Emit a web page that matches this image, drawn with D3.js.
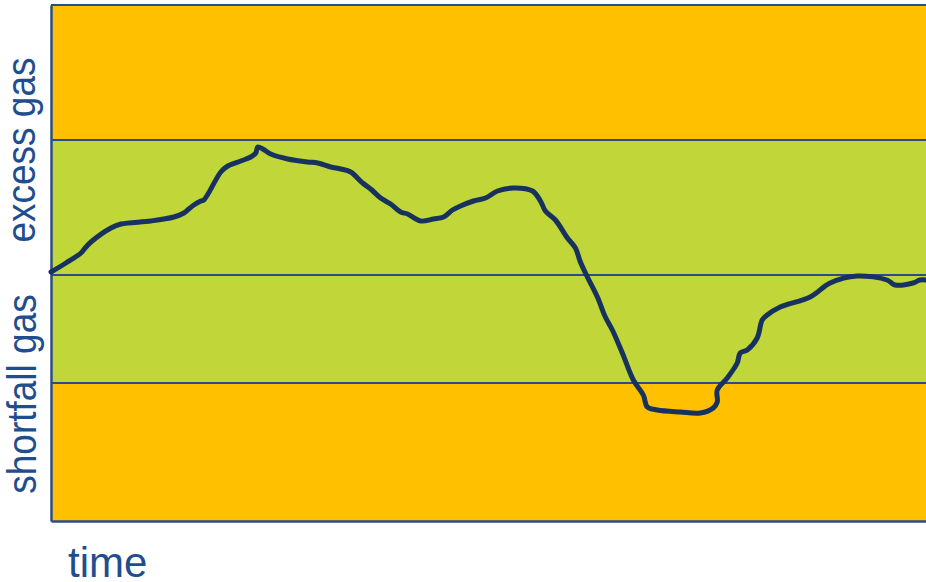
<!DOCTYPE html>
<html>
<head>
<meta charset="utf-8">
<script src="https://cdn.jsdelivr.net/npm/d3@7"></script>
<style>
  body { margin: 0; background: #fff; }
  svg { display: block; font-family: "Liberation Sans", Arial, sans-serif; }
</style>
</head>
<body>
<svg id="chart"></svg>
<script>
// time (arbitrary units) and gas balance (arbitrary units, 0 = balanced)
const times = [0, 15, 30, 35, 40, 60, 70, 100, 123, 133, 138, 143, 150, 153, 170, 177, 190, 200, 205, 207, 212, 220, 237, 257, 267, 280, 290,
  300, 312, 320, 330, 340, 350, 357, 370, 383, 393, 402, 410, 423, 435, 447, 463, 482, 490, 495, 505, 517, 525, 530,
  537, 547, 555, 562, 572, 583, 593, 597, 607, 630, 650, 663, 667, 667, 677, 687, 690, 697, 707, 712, 717, 730, 760,
  780, 807, 837, 845, 863, 870, 876];
const balance = [3, 12, 22, 28, 33, 47, 51, 54, 58, 62, 66, 70, 74, 75, 103, 109, 114, 118, 122, 128, 126, 121, 116, 113, 112, 108, 106,
  103, 92, 86, 77, 71, 63, 61, 54, 56, 58, 65, 69, 74, 77, 84, 87, 84, 74, 64, 55, 37, 27, 13,
  -2, -22, -42, -55, -78, -105, -120, -132, -135, -137, -138, -133, -127, -115, -103, -88, -78, -75, -63, -45, -40, -32, -22,
  -8, -1, -5, -10, -8, -5, -5];

// band limits on the balance scale
const yTop = 270, yBottom = -246;
const upperLimit = 135, lowerLimit = -108;
const bands = [
  { from: upperLimit, to: yTop, color: "#ffc000" },
  { from: lowerLimit, to: upperLimit, color: "#c1d638" },
  { from: yBottom, to: lowerLimit, color: "#ffc000" }
];
const gridLines = [upperLimit, 0, lowerLimit];

const margin = { top: 5, right: 0, bottom: 61, left: 51 };
const width = 926 - margin.left - margin.right;
const height = 582 - margin.top - margin.bottom;

const svg = d3.select("#chart")
  .attr("width", 926)
  .attr("height", 582);

const g = svg.append("g")
  .attr("transform", `translate(${margin.left},${margin.top})`);

const x = d3.scaleLinear().domain([0, 876]).range([0, width]);
const y = d3.scaleLinear().domain([yBottom, yTop]).range([height, 0]);

// coloured bands
g.selectAll("rect.band")
  .data(bands)
  .enter().append("rect")
  .attr("class", "band")
  .attr("x", 0)
  .attr("width", width)
  .attr("y", d => y(d.to))
  .attr("height", d => y(d.from) - y(d.to))
  .attr("fill", d => d.color);

// band borders
g.selectAll("line.grid")
  .data(gridLines)
  .enter().append("line")
  .attr("class", "grid")
  .attr("x1", 0).attr("x2", width)
  .attr("y1", d => y(d)).attr("y2", d => y(d))
  .attr("stroke", "#2b4c8c")
  .attr("stroke-width", 2);

// frame: top, left, bottom
g.append("line").attr("x1", 0).attr("x2", width).attr("y1", y(yTop)).attr("y2", y(yTop))
  .attr("stroke", "#2b4c8c").attr("stroke-width", 2);
g.append("g")
  .call(d3.axisLeft(y).tickValues([]).tickSizeOuter(0))
  .call(a => a.select(".domain").attr("stroke", "#2b4c8c").attr("stroke-width", 2.5));
g.append("g")
  .attr("transform", `translate(0,${height})`)
  .call(d3.axisBottom(x).tickValues([]).tickSizeOuter(0))
  .call(a => a.select(".domain").attr("stroke", "#2b4c8c").attr("stroke-width", 2.5));

// gas balance line
const line = d3.line()
  .x((d, i) => x(times[i]))
  .y(d => y(d))
  .curve(d3.curveCatmullRom.alpha(0.5));

g.append("path")
  .datum(balance)
  .attr("fill", "none")
  .attr("stroke", "#17325f")
  .attr("stroke-width", 5)
  .attr("stroke-linejoin", "round")
  .attr("stroke-linecap", "round")
  .attr("d", line);

// labels
svg.append("text")
  .attr("transform", "translate(35,150) rotate(-90) scale(1,1.12)")
  .attr("text-anchor", "middle")
  .attr("fill", "#1f4e8f")
  .style("font-size", "37px")
  .text("excess gas");

svg.append("text")
  .attr("transform", "translate(36,394) rotate(-90) scale(1,1.12)")
  .attr("text-anchor", "middle")
  .attr("fill", "#1f4e8f")
  .style("font-size", "37px")
  .text("shortfall gas");

svg.append("text")
  .attr("x", 68)
  .attr("y", 577)
  .attr("fill", "#1f4e8f")
  .style("font-size", "42px")
  .text("time");
</script>
</body>
</html>
